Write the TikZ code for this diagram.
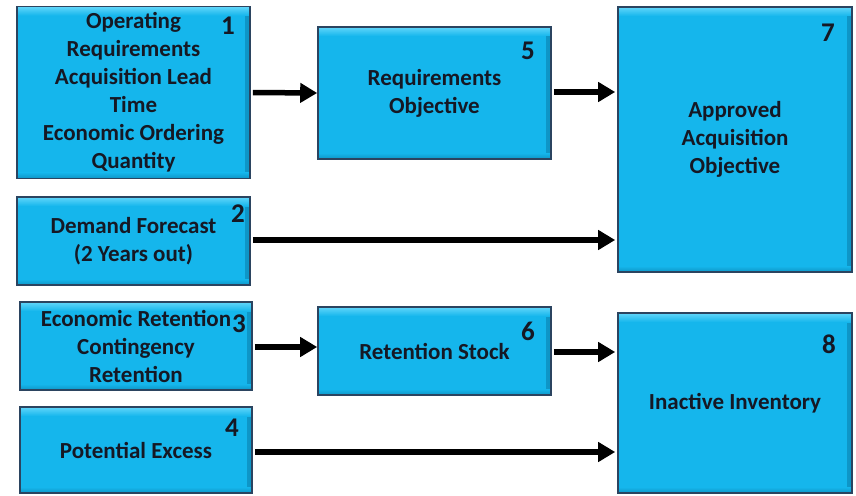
\documentclass[tikz,border=0pt]{standalone}
\usepackage{fontspec}
\setmainfont{Carlito}
\usetikzlibrary{arrows.meta,calc}
\definecolor{boxfill}{HTML}{15B6EC}
\definecolor{boxedge}{HTML}{2B4460}
\definecolor{boxhi}{HTML}{62D6FA}
\definecolor{boxlo}{HTML}{0E95C6}
\definecolor{ink}{HTML}{151824}
\tikzset{
  box/.style={draw=boxedge, line width=1.6pt, fill=boxfill, inner sep=0pt,
    text=ink, align=center, font=\bfseries\fontsize{23}{28}\selectfont,
    path picture={
      \fill[left color=boxfill, right color=boxlo]
        ($(path picture bounding box.north east)+(-5pt,0pt)$) rectangle
        (path picture bounding box.south east);
      \fill[top color=boxfill, bottom color=boxlo]
        ($(path picture bounding box.south west)+(0pt,6pt)$) rectangle
        (path picture bounding box.south east);
      \fill[top color=boxhi, bottom color=boxfill]
        (path picture bounding box.north west) rectangle
        ($(path picture bounding box.north east)+(0pt,-9pt)$);
    }},
  num/.style={text=ink, font=\bfseries\fontsize{27}{30}\selectfont, inner sep=0pt},
  flow/.style={line width=5.5pt, -{Triangle[length=17pt,width=19pt]}},
}
\begin{document}
\begin{tikzpicture}[x=1pt,y=-1pt]
\useasboundingbox (0,0) rectangle (856,495);

% input boxes (left column)
\node[box, minimum width=233pt, minimum height=172pt] (b1) at (133.5,92.5)
  {Operating\\Requirements\\Acquisition Lead\\Time\\Economic Ordering\\Quantity};
\node[box, minimum width=233pt, minimum height=88pt] (b2) at (133.5,241)
  {Demand Forecast\\(2 Years out)};
\node[box, minimum width=232pt, minimum height=88pt] (b3) at (136,346)
  {Economic Retention\\Contingency\\Retention};
\node[box, minimum width=232pt, minimum height=86pt] (b4) at (136,450)
  {Potential Excess};

% intermediate boxes
\node[box, minimum width=233pt, minimum height=132pt] (b5) at (434.5,93)
  {Requirements\\Objective};
\node[box, minimum width=233pt, minimum height=88pt] (b6) at (434.5,351)
  {Retention Stock};

% result boxes
\node[box, minimum width=234pt, minimum height=265pt] (b7) at (735,139.5)
  {Approved\\Acquisition\\Objective};
\node[box, minimum width=234pt, minimum height=180pt] (b8) at (735,403)
  {Inactive Inventory};

% step numbers
\node[num] (n1) at (228,26) {1};
\node[num] (n2) at (238,214) {2};
\node[num] (n3) at (239,324) {3};
\node[num] (n4) at (232,428) {4};
\node[num] (n5) at (528,51) {5};
\node[num] (n6) at (528,331) {6};
\node[num] (n7) at (828,33) {7};
\node[num] (n8) at (829,344) {8};

% flows
\draw[flow] ($(b1.east)+(2,0)$) -- (b5.west);
\draw[flow] ($(b5.east)+(2,-1)$) -- ($(b5.east -| b7.west)+(-2,-1)$);
\draw[flow] ($(b2.east)+(2,-1)$) -- ($(b2.east -| b7.west)+(-2,-1)$);
\draw[flow] ($(b3.east)+(2,1)$) -- ($(b3.east -| b6.west)+(0,1)$);
\draw[flow] ($(b6.east)+(2,1)$) -- ($(b6.east -| b8.west)+(-2,1)$);
\draw[flow] ($(b4.east)+(2,2)$) -- ($(b4.east -| b8.west)+(-2,2)$);
\end{tikzpicture}
\end{document}
